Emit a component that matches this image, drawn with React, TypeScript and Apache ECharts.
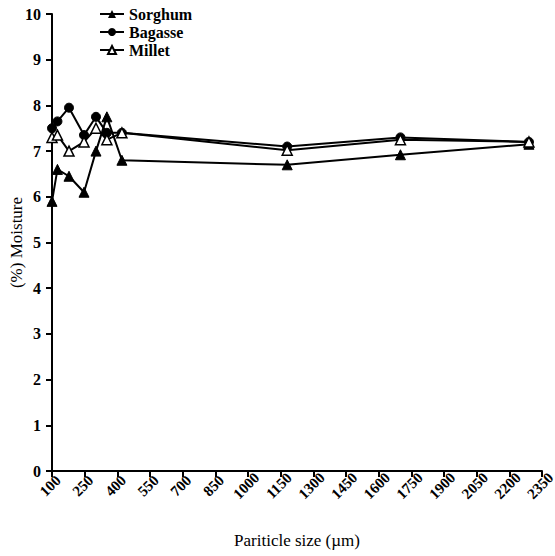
import React, { useEffect, useRef } from "react";
import * as echarts from "echarts";

const particleSizes = [100, 125, 178, 247, 302, 352, 421, 1180, 1700, 2290];
const sorghum = [5.9, 6.6, 6.45, 6.1, 7.0, 7.75, 6.8, 6.7, 6.92, 7.15];
const bagasse = [7.5, 7.65, 7.95, 7.35, 7.75, 7.4, 7.4, 7.1, 7.3, 7.2];
const millet = [7.3, 7.35, 7.0, 7.2, 7.5, 7.25, 7.4, 7.02, 7.25, 7.2];
const xTicks = [100, 250, 400, 550, 700, 850, 1000, 1150, 1300, 1450, 1600, 1750, 1900, 2050, 2200, 2350];

const FONT = "Times New Roman";

export default function App() {
  const ref = useRef<HTMLDivElement>(null);
  useEffect(() => {
    if (!ref.current) return;
    const chart = echarts.init(ref.current, null, { renderer: "svg" });
    const pair = (ys: number[]) => particleSizes.map((x, i) => [x, ys[i]]);
    const lineStyle = { color: "#000", width: 2 };
    chart.setOption({
      animation: false,
      backgroundColor: "#fff",
      textStyle: { fontFamily: FONT },
      grid: { left: 52, right: 13, top: 14, bottom: 85, containLabel: false, outerBoundsMode: "none" },
      legend: {
        orient: "vertical",
        left: 94,
        top: 1,
        itemWidth: 24,
        itemHeight: 10,
        itemGap: 2,
        textStyle: { fontFamily: FONT, fontSize: 16, color: "#000", fontWeight: "bold" },
        data: ["Sorghum", "Bagasse", "Millet"],
      },
      xAxis: {
        type: "value",
        min: 100,
        max: 2350,
        name: "Pariticle size (µm)",
        nameLocation: "middle",
        nameGap: 61,
        nameMoveOverlap: false,
        nameTextStyle: { fontFamily: FONT, fontSize: 17, color: "#000" },
        splitLine: { show: false },
        axisLine: { show: true, onZero: false, lineStyle: { color: "#000", width: 2 } },
        axisTick: { show: true, customValues: xTicks, length: 6, lineStyle: { color: "#000", width: 2 } },
        axisLabel: {
          customValues: xTicks,
          formatter: (v: number) => String(v),
          rotate: 45,
          align: "center",
          verticalAlign: "middle",
          padding: [0, 5, 0, 0],
          margin: 13,
          fontFamily: FONT,
          fontSize: 15,
          fontWeight: "bold",
          color: "#000",
        },
      },
      yAxis: {
        type: "value",
        min: 0,
        max: 10,
        interval: 1,
        name: "(%) Moisture",
        nameLocation: "middle",
        nameGap: 27,
        nameMoveOverlap: false,
        nameTextStyle: { fontFamily: FONT, fontSize: 17, color: "#000" },
        splitLine: { show: false },
        axisLine: { show: true, lineStyle: { color: "#000", width: 2 } },
        axisTick: { show: true, length: 6, lineStyle: { color: "#000", width: 2 } },
        axisLabel: { fontFamily: FONT, fontSize: 16, fontWeight: "bold", color: "#000", margin: 11 },
      },
      series: [
        {
          name: "Sorghum",
          type: "line",
          data: pair(sorghum),
          symbol: "triangle",
          symbolSize: 10,
          showAllSymbol: true,
          lineStyle,
          itemStyle: { color: "#000", borderColor: "#000" },
        },
        {
          name: "Bagasse",
          type: "line",
          data: pair(bagasse),
          symbol: "circle",
          symbolSize: 9,
          showAllSymbol: true,
          lineStyle,
          itemStyle: { color: "#000", borderColor: "#000" },
        },
        {
          name: "Millet",
          type: "line",
          data: pair(millet),
          symbol: "triangle",
          symbolSize: 10,
          showAllSymbol: true,
          lineStyle,
          itemStyle: { color: "#fff", borderColor: "#000", borderWidth: 1.5 },
        },
      ],
    });
    return () => chart.dispose();
  }, []);
  return <div ref={ref} style={{ width: 555, height: 556, position: "absolute", left: 0, top: 0 }} />;
}
